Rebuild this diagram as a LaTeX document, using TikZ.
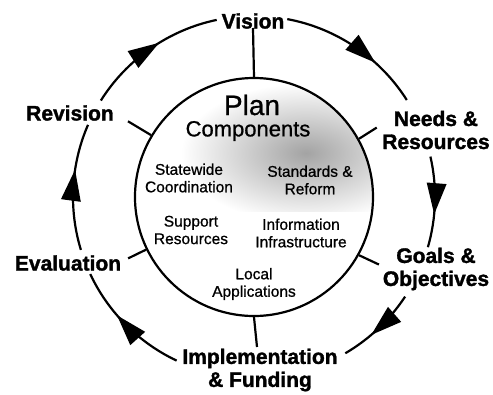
\documentclass[tikz,border=0pt]{standalone}
\usepackage{fontspec}
\setmainfont{Liberation Sans}
\newfontfamily\heavyfont[FakeBold=1.5]{Liberation Sans Bold}
\newfontfamily\medfont[FakeBold=0.8]{Liberation Sans}
\usetikzlibrary{decorations.markings}
\tikzset{
  cyc/.style={line width=2.2pt, postaction={decorate},
    decoration={markings, mark=at position #1 with {\fill (3pt,0pt) -- (-28pt,10pt) -- (-28pt,-10pt) -- cycle;}}},
  cyc/.default=0.58,
  big/.style={font=\fontsize{21}{23}\selectfont\heavyfont, align=center, inner sep=1pt},
  small/.style={font=\fontsize{15.5}{17.5}\selectfont\medfont, align=center, inner sep=0pt},
  spoke/.style={line width=2.2pt},
  ring/.style={circle, draw, line width=2.2pt, minimum size=238pt, inner sep=0pt}
}
\begin{document}
\begin{tikzpicture}[x=1pt,y=1pt]
\useasboundingbox (-254,-197) rectangle (239,197);
% shading inside the inner circle
\begin{scope}
  \clip (0,0) circle (119);
  \clip (-130,-14) rectangle (130,125);
  \shade[inner color=black!36, outer color=white] (52,44) ellipse (125 and 70);
\end{scope}
\node[ring] (plan) at (0,0) {};
% outer labels
\node[big] (vision) at (-1,176) {Vision};
\node[big] (needs) at (182,67) {Needs \&\\Resources};
\node[big] (goals) at (182,-72) {Goals \&\\Objectives};
\node[big] (impl) at (6,-173) {Implementation\\\& Funding};
\node[big] (eval) at (-186,-66) {Evaluation};
\node[big] (rev) at (-184,84) {Revision};
% inner labels
\node[font=\fontsize{28}{30}\selectfont\medfont, inner sep=0pt] (plantxt) at (-2,92) {Plan};
\node[font=\fontsize{22}{24}\selectfont\medfont, inner sep=0pt] (comp) at (-6,66) {Components};
\node[small] (state) at (-65,19) {Statewide\\Coordination};
\node[small] (stand) at (56,17) {Standards \&\\Reform};
\node[small] (supp) at (-63,-33) {Support\\Resources};
\node[small] (info) at (47,-36) {Information\\Infrastructure};
\node[small] (local) at (0,-87) {Local\\Applications};
% spokes
\coordinate (vt) at (-1,169);
\coordinate (nt) at (29.5:141);
\coordinate (gt) at (331.6:142);
\coordinate (it) at (3,-150);
\coordinate (et) at (206:140);
\coordinate (rt) at (149:147);
\draw[spoke] (plan.90) -- (vt);
\draw[spoke] (plan.29.5) -- (nt);
\draw[spoke] (plan.331.6) -- (gt);
\draw[spoke] (plan.270) -- (it);
\draw[spoke] (plan.206) -- (et);
\draw[spoke] (plan.149) -- (rt);
% outer cycle arcs
\draw[cyc=0.65] (79.4:181) arc[start angle=79.4,end angle=32.4,radius=181];
\draw[cyc=0.6] (12.9:181) arc[start angle=12.9,end angle=-16.1,radius=181];
\draw[cyc=0.58] (-33.4:181) arc[start angle=-33.4,end angle=-59.7,radius=181];
\draw[cyc=0.58] (244.7:181) arc[start angle=244.7,end angle=205.2,radius=181];
\draw[cyc=0.61] (197:181) arc[start angle=197,end angle=156.5,radius=181];
\draw[cyc=0.55] (147.8:181) arc[start angle=147.8,end angle=101.9,radius=181];
\end{tikzpicture}
\end{document}
